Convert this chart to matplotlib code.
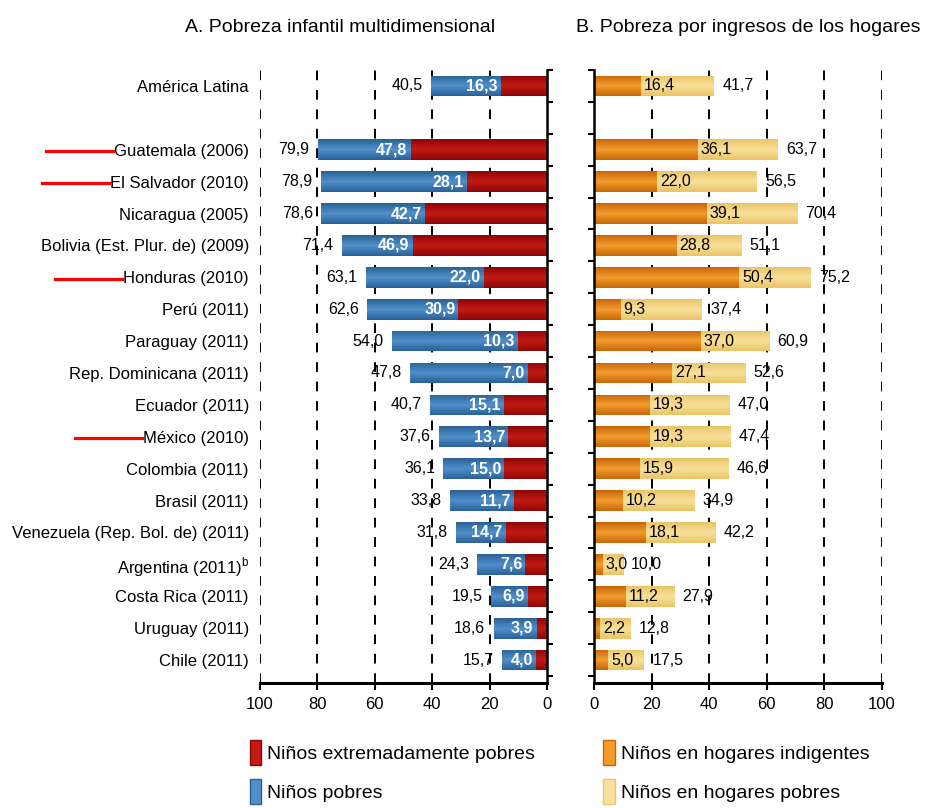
import matplotlib
matplotlib.use("Agg")
import matplotlib.pyplot as plt
from matplotlib.patches import Patch
from matplotlib.lines import Line2D
from matplotlib.colors import LinearSegmentedColormap
from matplotlib import font_manager
import numpy as np

names = ["América Latina", "Guatemala (2006)", "El Salvador (2010)", "Nicaragua (2005)",
         "Bolivia (Est. Plur. de) (2009)", "Honduras (2010)", "Perú (2011)", "Paraguay (2011)",
         "Rep. Dominicana (2011)", "Ecuador (2011)", "México (2010)", "Colombia (2011)",
         "Brasil (2011)", "Venezuela (Rep. Bol. de) (2011)", r"Argentina (2011)$^{\rm b}$",
         "Costa Rica (2011)", "Uruguay (2011)", "Chile (2011)"]
pobres_total = [40.5, 79.9, 78.9, 78.6, 71.4, 63.1, 62.6, 54.0, 47.8, 40.7, 37.6, 36.1,
                33.8, 31.8, 24.3, 19.5, 18.6, 15.7]
extremos = [16.3, 47.8, 28.1, 42.7, 46.9, 22.0, 30.9, 10.3, 7.0, 15.1, 13.7, 15.0,
            11.7, 14.7, 7.6, 6.9, 3.9, 4.0]
hogares_total = [41.7, 63.7, 56.5, 70.4, 51.1, 75.2, 37.4, 60.9, 52.6, 47.0, 47.4, 46.6,
                 34.9, 42.2, 10.0, 27.9, 12.8, 17.5]
indigentes = [16.4, 36.1, 22.0, 39.1, 28.8, 50.4, 9.3, 37.0, 27.1, 19.3, 19.3, 15.9,
              10.2, 18.1, 3.0, 11.2, 2.2, 5.0]
marcados = ["Guatemala (2006)", "El Salvador (2010)", "Honduras (2010)", "México (2010)"]

installed = {f.name for f in font_manager.fontManager.ttflist}
fam = "Liberation Sans Narrow" if "Liberation Sans Narrow" in installed else "Liberation Sans"
plt.rcParams["font.family"] = [fam, "DejaVu Sans"]
plt.rcParams["mathtext.fontset"] = "custom"
plt.rcParams["mathtext.rm"] = fam

# (edge, centre) colours for the shaded bars
RED = ("#8c0707", "#c41a12")
BLUE = ("#2b6096", "#5090cc")
ORANGE = ("#c9660a", "#f39c2c")
YELLOW = ("#e9c466", "#f9e19c")


def fmt(v):
    return f"{v:.1f}".replace(".", ",")


def shaded(ax, bars, cols):
    cmap = LinearSegmentedColormap.from_list("g", [cols[0], cols[1], cols[0]])
    grad = np.linspace(0, 1, 64).reshape(-1, 1)
    for r in bars:
        r.set_facecolor(cols[0])
        x, y = r.get_xy()
        im = ax.imshow(grad, cmap=cmap, aspect="auto", zorder=2.1, interpolation="bilinear",
                       extent=[x, x + r.get_width(), y, y + r.get_height()])
        im.set_clip_path(r)


ypos = np.array([0] + list(range(2, 19)))
ext = np.array(extremos)
ptot = np.array(pobres_total)
ind = np.array(indigentes)
htot = np.array(hogares_total)
h = 0.65

fig = plt.figure(figsize=(9.25, 8.08), dpi=100)
ax1 = fig.add_axes([260 / 925, 125 / 808, 287 / 925, 613 / 808])
ax2 = fig.add_axes([594 / 925, 125 / 808, 288 / 925, 613 / 808])

for ax in (ax1, ax2):
    for g in range(20, 101, 20):
        ax.axvline(g, color="black", lw=1.4, ls=(0, (5, 5)), zorder=0)
    ax.spines["top"].set_visible(False)
    ax.spines["bottom"].set_linewidth(2.2)
    ax.tick_params(axis="x", length=5, width=1.5, labelsize=12, pad=5)

# Panel A
b1 = ax1.barh(ypos, ext, height=h, lw=0, zorder=2)
b2 = ax1.barh(ypos, ptot - ext, left=ext, height=h, lw=0, zorder=2)
shaded(ax1, b1, RED)
shaded(ax1, b2, BLUE)
for y, e, t in zip(ypos, ext, ptot):
    ax1.annotate(fmt(e), (e, y), xytext=(-2, 0), textcoords="offset points",
                 ha="right", va="center", color="white", fontsize=11.5, fontweight="bold", zorder=3)
    ax1.annotate(fmt(t), (t, y), xytext=(-6, 0), textcoords="offset points",
                 ha="right", va="center", color="black", fontsize=11.5, zorder=3)
ax1.spines["left"].set_visible(False)
ax1.spines["right"].set_linewidth(1.8)
ax1.set_yticks(ypos, names)
ax1.tick_params(axis="y", which="major", length=0, labelsize=12, pad=8)
ax1.tick_params(axis="y", which="minor", left=False, right=True, length=4, width=1.5)

# Panel B
b3 = ax2.barh(ypos, ind, height=h, lw=0, zorder=2)
b4 = ax2.barh(ypos, htot - ind, left=ind, height=h, lw=0, zorder=2)
shaded(ax2, b3, ORANGE)
shaded(ax2, b4, YELLOW)
for y, i, t in zip(ypos, ind, htot):
    ax2.annotate(fmt(i), (i, y), xytext=(2, 0), textcoords="offset points",
                 ha="left", va="center", color="black", fontsize=11.5, zorder=3)
    ax2.annotate(fmt(t), (t, y), xytext=(6, 0), textcoords="offset points",
                 ha="left", va="center", color="black", fontsize=11.5, zorder=3)
ax2.spines["right"].set_visible(False)
ax2.spines["left"].set_linewidth(1.8)
ax2.set_yticks([])
ax2.tick_params(axis="y", which="minor", length=4, width=1.5)

for ax in (ax1, ax2):
    ax.set_ylim(18.72, -0.45)
    ax.set_xlim(0, 100)
    ax.set_xticks(range(0, 101, 20))
    ax.set_yticks(np.arange(-0.5, 19, 1.0), minor=True)
ax1.set_xlim(100, 0)

fig.text(340 / 925, 1 - 28 / 808, "A. Pobreza infantil multidimensional",
         ha="center", va="center", fontsize=14)
fig.text(748 / 925, 1 - 28 / 808, "B. Pobreza por ingresos de los hogares",
         ha="center", va="center", fontsize=14)

handles = [Patch(facecolor=c[1], edgecolor=c[0]) for c in (RED, BLUE, ORANGE, YELLOW)]
labels = ["Niños extremadamente pobres", "Niños pobres",
          "Niños en hogares indigentes", "Niños en hogares pobres"]
fig.legend(handles, labels, ncol=2, loc="upper left", bbox_to_anchor=(242 / 925, 1 - 732 / 808),
           frameon=False, fontsize=14, handlelength=0.6, handleheight=1.6, handletextpad=0.3,
           columnspacing=3.5, labelspacing=0.75, borderaxespad=0)

# red markers in front of some country names
fig.canvas.draw()
inv = fig.transFigure.inverted()
for lab in ax1.get_yticklabels():
    if lab.get_text() in marcados:
        bb = lab.get_window_extent()
        yc = (bb.y0 + bb.y1) / 2
        (x0, yy), (x1, _) = inv.transform([(bb.x0 - 68, yc), (bb.x0 - 1, yc)])
        fig.add_artist(Line2D([x0, x1], [yy, yy], color="red", lw=2.3, transform=fig.transFigure))

fig.savefig("out.png", dpi=100)
